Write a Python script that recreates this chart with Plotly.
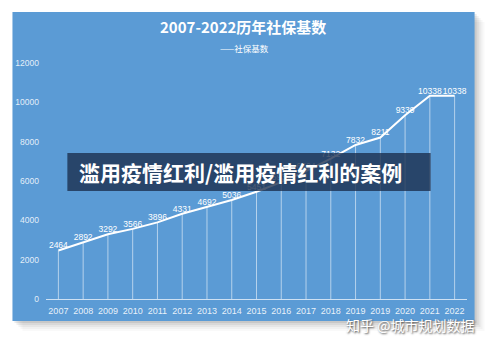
import plotly.graph_objects as go

years = ["2007", "2008", "2009", "2010", "2011", "2012", "2013", "2014", "2015",
         "2016", "2017", "2018", "2019", "2019", "2020", "2021", "2022"]
values = [2464, 2892, 3292, 3566, 3896, 4331, 4692, 5036, 5451,
          5939, 6504, 7132, 7832, 8211, 9339, 10338, 10338]
y_ticks = [0, 2000, 4000, 6000, 8000, 10000, 12000]
y_tick_labels = ["0", "2000", "4000", "6000", "8000", "10000", "12000"]

title_text = "2007-2022历年社保基数"
series_name = "社保基数"
banner_text = "滥用疫情红利/滥用疫情红利的案例"
watermark = "知乎 @城市规划数据"

xs = list(range(len(years)))

# plot area in pixels
W, H = 500, 345
L, R, T, B = 45.6, 467.4, 63, 299
pw, ph = R - L, B - T

def px(x):
    return (x - L) / pw

def py(y):
    return (B - y) / ph

drop_x, drop_y = [], []
for x, v in zip(xs, values):
    drop_x += [x, x, None]
    drop_y += [v, 0, None]

fig = go.Figure()
fig.add_trace(go.Scatter(
    x=drop_x, y=drop_y, mode="lines",
    line=dict(color="rgba(255,255,255,0.55)", width=1),
    hoverinfo="skip", showlegend=False))
fig.add_trace(go.Scatter(
    x=xs, y=values, mode="lines+text", name=series_name,
    line=dict(color="white", width=2),
    text=[str(v) for v in values], textposition="top center",
    textfont=dict(color="white", size=8.5, family="Liberation Sans, Arial"),
    showlegend=False))

shapes = []
# card shadow
for i, a in enumerate([0.10, 0.08, 0.06, 0.04, 0.03]):
    o = 2 + i * 2
    shapes.append(dict(type="rect", xref="paper", yref="paper", layer="below",
                       x0=px(12 + o), x1=px(475 + o), y0=py(321 + o), y1=py(12 + o),
                       line=dict(width=0), fillcolor=f"rgba(60,60,60,{a})"))
shapes.append(dict(type="rect", xref="paper", yref="paper", layer="below",
                   x0=px(12), x1=px(475), y0=py(321), y1=py(12),
                   line=dict(width=0), fillcolor="#5b9bd5"))
# banner
shapes.append(dict(type="rect", xref="paper", yref="paper", layer="above",
                   x0=px(67), x1=px(431), y0=py(191), y1=py(153),
                   line=dict(width=0), fillcolor="rgba(25,45,75,0.78)"))

annotations = [
    dict(text="<b>" + title_text + "</b>", xref="paper", yref="paper",
         x=px(243), y=py(27), xanchor="center", yanchor="middle", showarrow=False,
         font=dict(color="white", size=15, family="Noto Sans CJK SC")),
    dict(text="——" + series_name, xref="paper", yref="paper",
         x=px(244), y=py(48), xanchor="center", yanchor="middle", showarrow=False,
         font=dict(color="white", size=8.5, family="Noto Sans CJK SC")),
    dict(text="<b>" + banner_text + "</b>", xref="paper", yref="paper",
         x=px(77), y=py(172), xanchor="left", yanchor="middle", showarrow=False,
         font=dict(color="white", size=21, family="Noto Sans CJK SC")),
    dict(text=watermark, xref="paper", yref="paper",
         x=px(410), y=py(325), xanchor="center", yanchor="middle", showarrow=False,
         font=dict(color="white", size=14, family="Noto Sans CJK SC",
                   shadow="1px 1px 2px #444")),
]

fig.update_layout(
    width=W, height=H,
    margin=dict(l=L, r=W - R, t=T, b=H - B, pad=0),
    paper_bgcolor="white", plot_bgcolor="rgba(0,0,0,0)",
    showlegend=False,
    shapes=shapes, annotations=annotations,
    xaxis=dict(range=[-0.5, 16.5], tickvals=xs, ticktext=years,
               showgrid=False, zeroline=False, showline=True,
               linecolor="rgba(255,255,255,0.7)", linewidth=1,
               ticks="", ticklabelstandoff=3,
               tickfont=dict(color="rgba(255,255,255,0.88)", size=9,
                             family="Liberation Sans, Arial")),
    yaxis=dict(range=[0, 12000], tickvals=y_ticks, ticktext=y_tick_labels,
               showgrid=False, zeroline=False, showline=False,
               ticks="", ticklabelstandoff=6,
               tickfont=dict(color="rgba(255,255,255,0.85)", size=8.5,
                             family="Liberation Sans, Arial")),
)

fig.write_html("out.html")
